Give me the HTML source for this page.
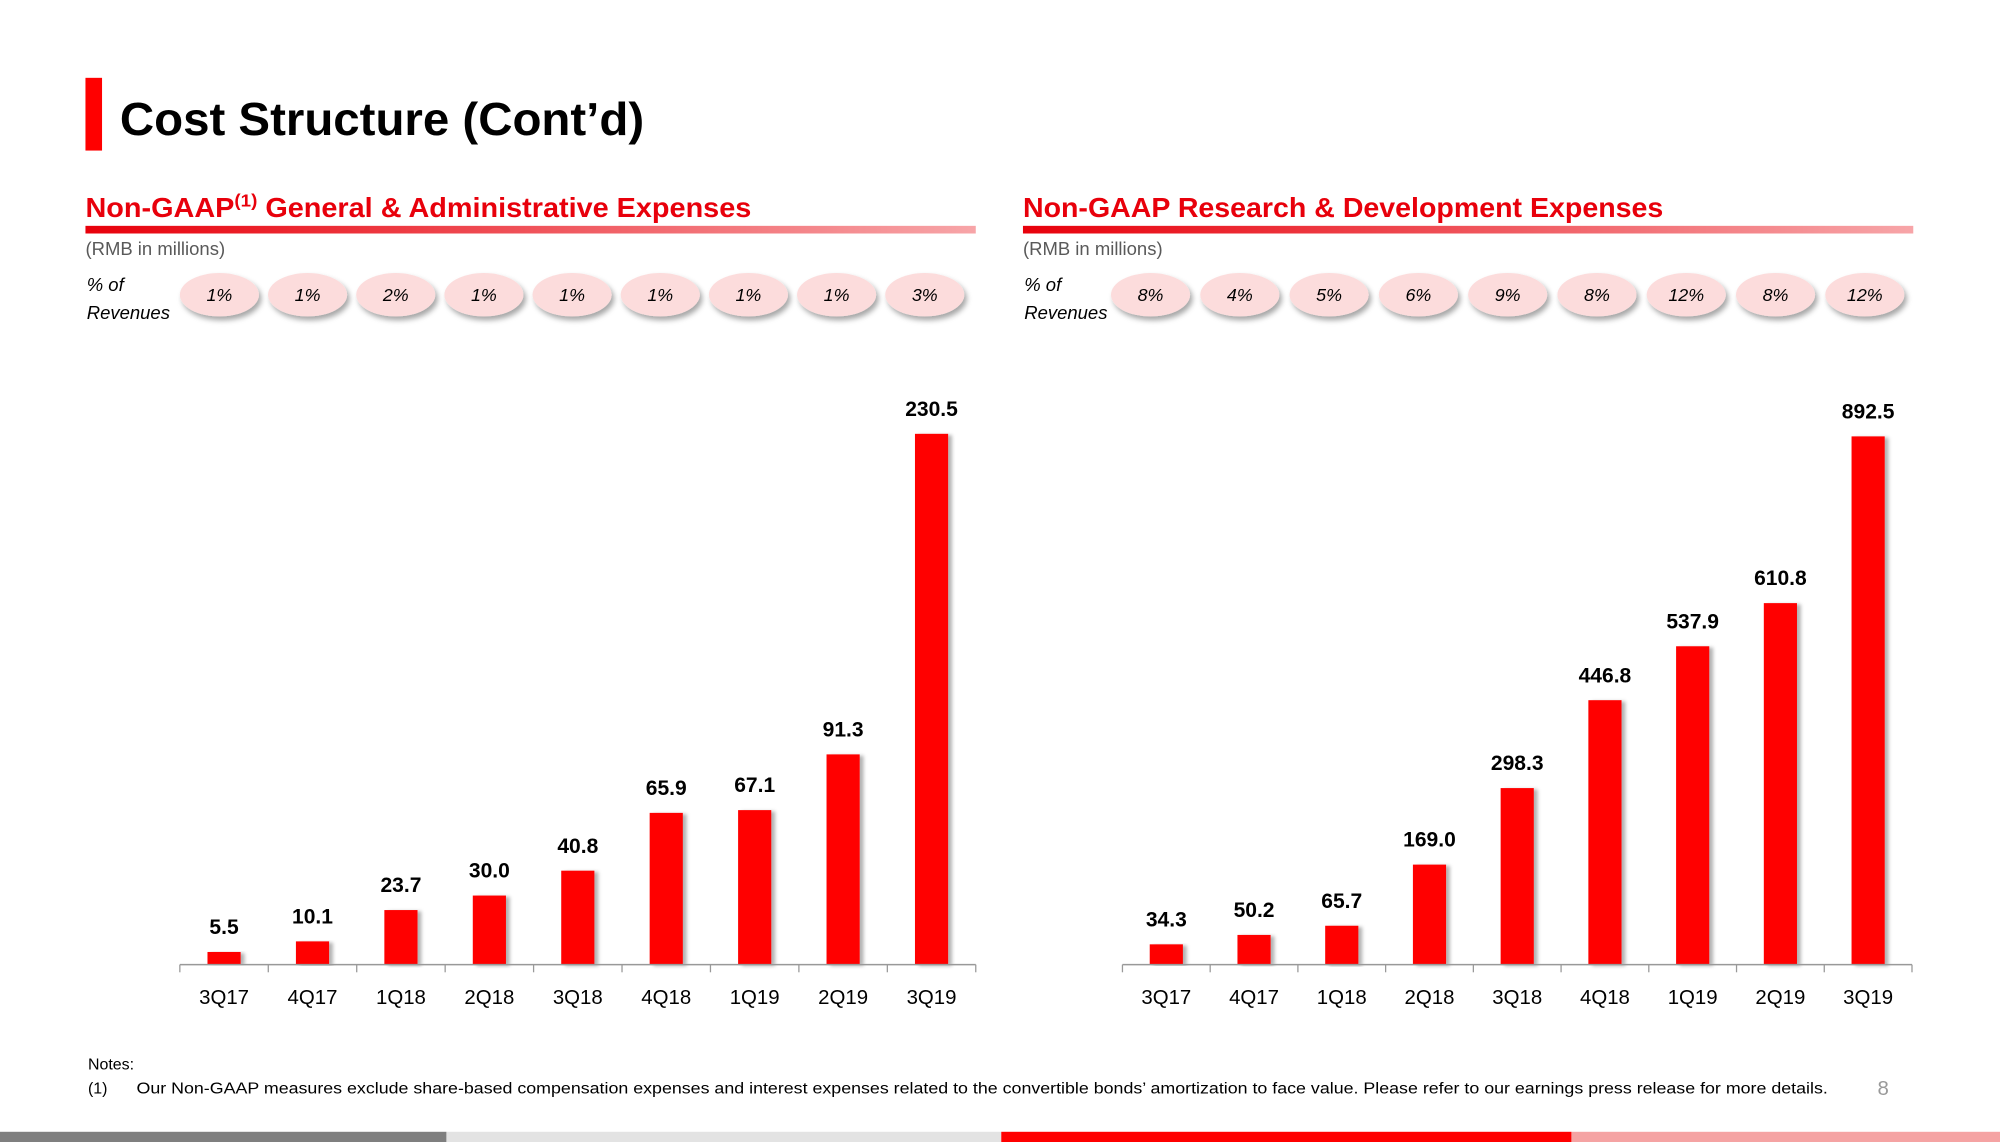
<!DOCTYPE html>
<html><head><meta charset="utf-8"><style>
html,body{margin:0;padding:0;background:#fff;}
svg{display:block;font-family:"Liberation Sans",sans-serif;}
</style></head><body>
<svg id="s" width="2000" height="1142" viewBox="0 0 1568 895" preserveAspectRatio="none" xmlns="http://www.w3.org/2000/svg">
<defs>
<linearGradient id="ug" x1="0" x2="1"><stop offset="0" stop-color="#e8000b"/><stop offset="1" stop-color="#f7a5a8"/></linearGradient>
<filter id="sh" x="-20%" y="-20%" width="150%" height="170%"><feDropShadow dx="2" dy="3" stdDeviation="2" flood-color="#000" flood-opacity="0.35"/></filter>
<filter id="bs" x="-20%" y="-5%" width="150%" height="110%"><feDropShadow dx="3" dy="1" stdDeviation="1.5" flood-color="#000" flood-opacity="0.3"/></filter>
</defs>
<rect x="67" y="61" width="13" height="57" fill="#ff0000"/>
<text x="94" y="106" font-size="36" font-weight="bold" fill="#000" textLength="411" lengthAdjust="spacingAndGlyphs">Cost Structure (Cont’d)</text>
<g id="charts"></g>
<text x="69" y="838" font-size="12.5" fill="#000">Notes:</text>
<text x="69" y="857" font-size="12.5" fill="#000">(1)</text>
<text x="107" y="857" font-size="12.5" fill="#000" textLength="1326" lengthAdjust="spacingAndGlyphs">Our Non-GAAP measures exclude share-based compensation expenses and interest expenses related to the convertible bonds’ amortization to face value. Please refer to our earnings press release for more details.</text>
<text x="1472" y="858" font-size="16" fill="#999">8</text>
<rect x="0" y="887" width="350" height="8" fill="#7f7f7f"/>
<rect x="350" y="887" width="435" height="8" fill="#e3e3e3"/>
<rect x="785" y="887" width="447" height="8" fill="#ff0000"/>
<rect x="1232" y="887" width="336" height="8" fill="#f5a3a3"/>
</svg>
<script>
const categories=["3Q17","4Q17","1Q18","2Q18","3Q18","4Q18","1Q19","2Q19","3Q19"];
const gaValues=[5.5,10.1,23.7,30.0,40.8,65.9,67.1,91.3,230.5];
const gaPct=["1%","1%","2%","1%","1%","1%","1%","1%","3%"];
const rdValues=[34.3,50.2,65.7,169.0,298.3,446.8,537.9,610.8,892.5];
const rdPct=["8%","4%","5%","6%","9%","8%","12%","8%","12%"];
const NS="http://www.w3.org/2000/svg";
const root=document.getElementById("charts");
function mk(tag,attrs,parent,txt){const e=document.createElementNS(NS,tag);for(const k in attrs)e.setAttribute(k,attrs[k]);if(txt!==undefined)e.textContent=txt;parent.appendChild(e);return e;}
function chart(cfg){
  const g=mk("g",{},root);
  
  
  const t=mk("text",{x:cfg.x0,y:170,"font-size":21.5,"font-weight":"bold",fill:"#e8000b",textLength:cfg.tl,lengthAdjust:"spacingAndGlyphs"},g);
  
  
  t.innerHTML=cfg.titleHTML;
  const u=mk("rect",{x:cfg.x0,y:177,width:698,height:6,fill:"url(#ug)"},g);
  
  
  const r=mk("text",{x:cfg.x0,y:200,"font-size":14.5,fill:"#595959"},g,"(RMB in millions)");
  
  
  const p1=mk("text",{x:cfg.x0+1,y:228,"font-size":14.5,"font-style":"italic",fill:"#000"},g,"% of");
  
  
  const p2=mk("text",{x:cfg.x0+1,y:250,"font-size":14.5,"font-style":"italic",fill:"#000"},g,"Revenues");
  
  
  const n=categories.length;
  const step=(cfg.ax1-cfg.ax0)/n;
  const xc=i=>cfg.ax0+step*(i+0.5);
  const y=v=>cfg.base-v*cfg.k;
  for(let i=0;i<n;i++){
    const cx=cfg.ex0+(cfg.ex1-cfg.ex0)*i/(n-1);
    const el=mk("ellipse",{cx:cx,cy:231,rx:31,ry:17,fill:"#fcdcdc",filter:"url(#sh)"},g);
    
    
    const pt=mk("text",{x:cx,y:236,"font-size":14,"font-style":"italic","text-anchor":"middle",fill:"#000"},g,cfg.pct[i]);
    
    
    const v=cfg.vals[i];
    const b=mk("rect",{x:xc(i)-13,y:y(v),width:26,height:cfg.base-y(v),fill:"#ff0000",filter:"url(#bs)"},g);
    
    
    const lt=mk("text",{x:xc(i),y:y(v)-14,"font-size":16.5,"font-weight":"bold","text-anchor":"middle",fill:"#000"},g,v.toFixed(1));
    
    
    const xl=mk("text",{x:xc(i),y:787,"font-size":16,"text-anchor":"middle",fill:"#000"},g,categories[i]);
    
    
  }
  for(let i=0;i<=n;i++){
    const tk=mk("line",{x1:cfg.ax0+step*i,x2:cfg.ax0+step*i,y1:cfg.base,y2:cfg.base+6,stroke:"#999","stroke-width":1},g);
    
    
  }
  const ax=mk("line",{x1:cfg.ax0,x2:cfg.ax1,y1:cfg.base,y2:cfg.base,stroke:"#999","stroke-width":1.2},g);
  
  
}
chart({name:"ga-expenses-chart",x0:67,tl:522,titleHTML:'Non-GAAP<tspan font-size="14" dy="-8">(1)</tspan><tspan dy="8"> General &amp; Administrative Expenses</tspan>',vals:gaValues,pct:gaPct,ax0:141,ax1:765,base:756,k:416/230.5,ex0:172,ex1:725});
chart({name:"rd-expenses-chart",x0:802,tl:502,titleHTML:'Non-GAAP Research &amp; Development Expenses',vals:rdValues,pct:rdPct,ax0:880,ax1:1499,base:756,k:414/892.5,ex0:902,ex1:1462});
</script>
</body></html>
